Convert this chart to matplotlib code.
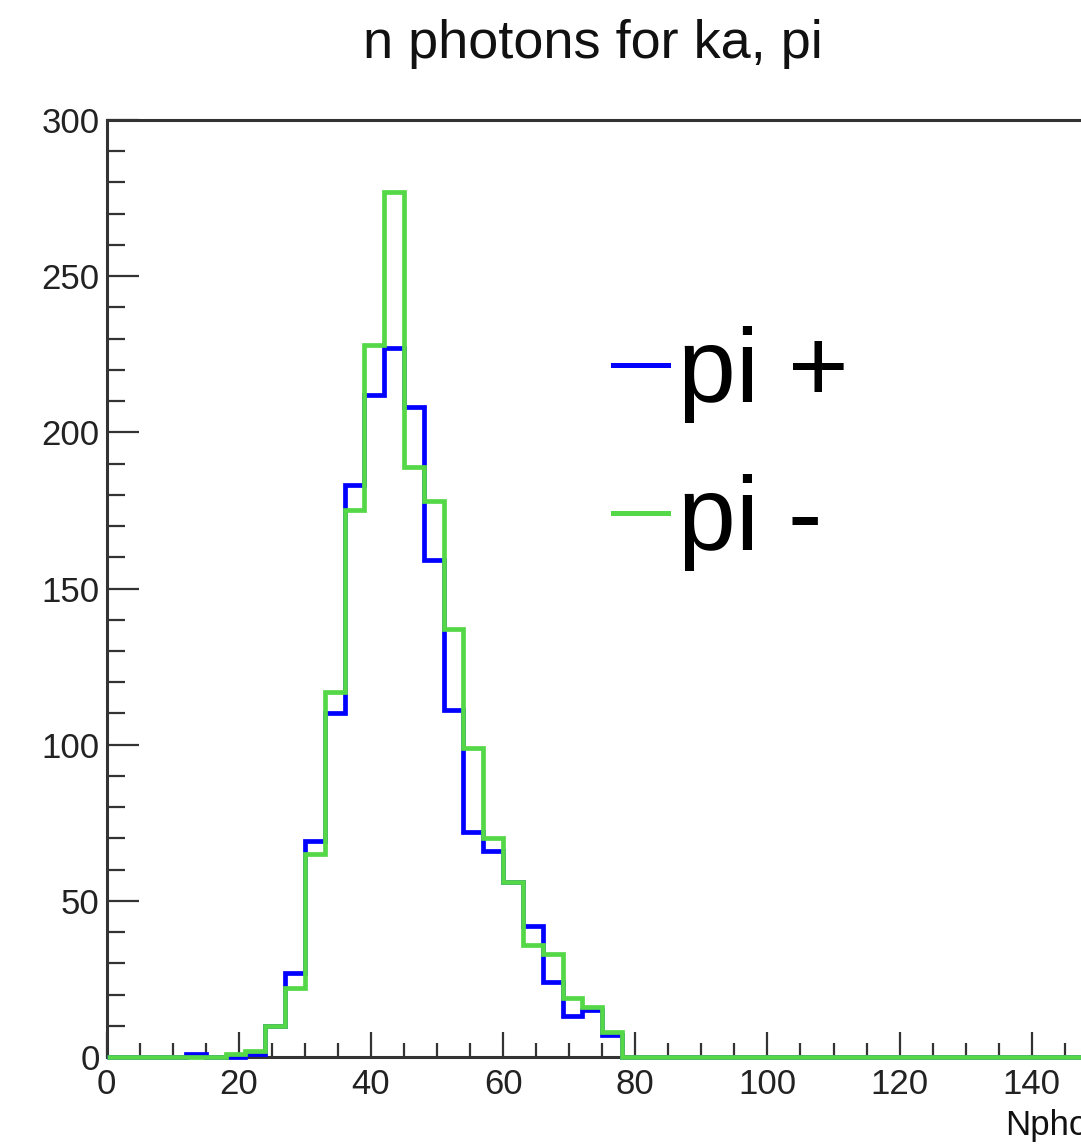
import numpy as np
import matplotlib.pyplot as plt
from matplotlib.lines import Line2D
from matplotlib.ticker import MultipleLocator

plt.rcParams['font.family'] = ['Liberation Sans', 'DejaVu Sans']

# data: 50 bins of width 3 between 0 and 150
bin_width = 3
n_bins = 50
pi_plus = [0, 0, 0, 0, 1, 0, 0, 1, 10, 27,
           69, 110, 183, 212, 227, 208, 159, 111, 72, 66,
           56, 42, 24, 13, 15, 7, 0, 0, 0, 0,
           0, 0, 0, 0, 0, 0, 0, 0, 0, 0,
           0, 0, 0, 0, 0, 0, 0, 0, 0, 0]
pi_minus = [0, 0, 0, 0, 0, 0, 1, 2, 10, 22,
            65, 117, 175, 228, 277, 189, 178, 137, 99, 70,
            56, 36, 33, 19, 16, 8, 0, 0, 0, 0,
            0, 0, 0, 0, 0, 0, 0, 0, 0, 0,
            0, 0, 0, 0, 0, 0, 0, 0, 0, 0]
labels = ["pi +", "pi -"]
colors = ["#0000ff", "#55d848"]

edges = np.arange(n_bins + 1) * bin_width

W, H = 1081, 1147
fig = plt.figure(figsize=(W / 100, H / 100), dpi=100)
# axes runs a bit past the right edge of the picture (cropped like the reference)
ax = fig.add_axes([106.7 / W, 90 / H, (1097.8 - 106.7) / W, (1057 - 120) / H])

for counts, c in zip([pi_plus, pi_minus], colors):
    ax.stairs(counts, edges, color=c, lw=3.4, clip_on=False, zorder=3)

ax.set_xlim(0, 150)
ax.set_ylim(0, 300)

ax.xaxis.set_major_locator(MultipleLocator(20))
ax.xaxis.set_minor_locator(MultipleLocator(5))
ax.yaxis.set_major_locator(MultipleLocator(50))
ax.yaxis.set_minor_locator(MultipleLocator(10))

ax.tick_params(axis='both', which='both', direction='in', width=1.6, color='#333333',
               labelsize=25, labelcolor='#222222', top=False, right=False)
ax.tick_params(axis='y', which='major', length=23, pad=5)
ax.tick_params(axis='y', which='minor', length=13)
ax.tick_params(axis='x', which='major', length=18, pad=8)
ax.tick_params(axis='x', which='minor', length=10)

for s in ax.spines.values():
    s.set_linewidth(2.2)
    s.set_color('#333333')

# title and axis label, ROOT style
fig.text(593 / W, 1 - 58 / H, "n photons for ka, pi", ha='center', va='baseline',
         fontsize=39, color='#111111')
fig.text(1005 / W, 1 - 1135 / H, "Nphotons", ha='left', va='baseline',
         fontsize=25, color='#111111')

handles = [Line2D([], [], color=c, lw=3.6) for c in colors]
ax.legend(handles, labels, loc='upper left', bbox_to_anchor=(613 / W, 1 - 326 / H),
          bbox_transform=fig.transFigure, frameon=False, fontsize=75,
          handlelength=0.53, handletextpad=0.09, labelspacing=0.49,
          borderpad=0, borderaxespad=0)

fig.savefig("out.png", dpi=100)
